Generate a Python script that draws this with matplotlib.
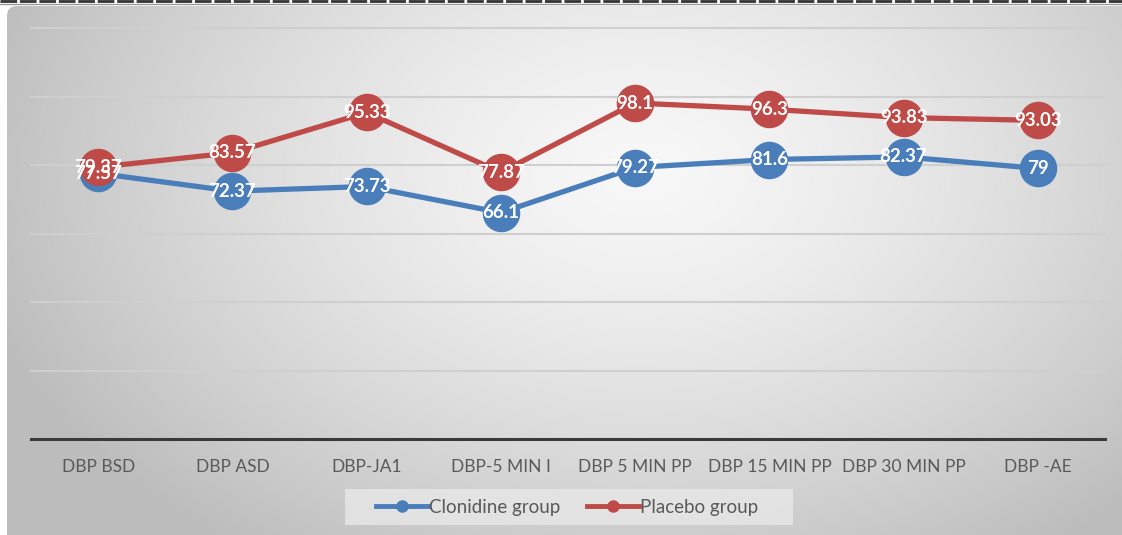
import numpy as np
import matplotlib
matplotlib.use('Agg')
import matplotlib.pyplot as plt
from matplotlib.patches import FancyBboxPatch, Rectangle
from matplotlib.lines import Line2D

categories = ['DBP BSD', 'DBP ASD', 'DBP-JA1', 'DBP-5 MIN I', 'DBP 5 MIN PP',
              'DBP 15 MIN PP', 'DBP 30 MIN PP', 'DBP -AE']
clonidine = [77.57, 72.37, 73.73, 66.1, 79.27, 81.6, 82.37, 79]
placebo = [79.37, 83.57, 95.33, 77.87, 98.1, 96.3, 93.83, 93.03]
clon_labels = ['77.57', '72.37', '73.73', '66.1', '79.27', '81.6', '82.37', '79']
plac_labels = ['79.37', '83.57', '95.33', '77.87', '98.1', '96.3', '93.83', '93.03']

BLUE = '#4A7EBB'
RED = '#BE4B48'
W, H = 1122, 535

plt.rcParams['font.family'] = ['Lato', 'DejaVu Sans']

fig = plt.figure(figsize=(W / 100, H / 100), dpi=100)
fig.patch.set_facecolor('white')

# background panel with a soft radial gradient
bg = fig.add_axes([0, 0, 1, 1])
bg.set_xlim(0, W)
bg.set_ylim(H, 0)
bg.axis('off')
yy, xx = np.mgrid[0:H, 0:W]
r = np.sqrt(((xx - 640) / 620.0) ** 2 + ((yy - 170) / 420.0) ** 2)
shade = np.clip(0.97 - 0.2 * r ** 1.4, 0.74, 0.97)
img = bg.imshow(np.dstack([shade] * 3), extent=(0, W, H, 0), zorder=0)
panel = FancyBboxPatch((7, 6), W + 20, H + 20, boxstyle='round,pad=0,rounding_size=10',
                       facecolor='none', edgecolor='none', transform=bg.transData)
bg.add_patch(panel)
img.set_clip_path(panel)
bg.plot([0, W], [1, 1], color='#333333', lw=2, ls=(0, (6, 1)))
bg.plot([0, W], [4, 4], color='#999999', lw=1)
# legend backing box
bg.add_patch(Rectangle((345, 489), 448, 36, facecolor='#e8e8e8', edgecolor='none',
                       alpha=0.8, zorder=2))

ax = fig.add_axes([31 / W, (H - 439) / H, (1105 - 31) / W, (439 - 28) / H])
ax.patch.set_alpha(0)
x = np.arange(len(categories))
ax.set_xlim(-0.5, len(categories) - 0.5)
ax.set_ylim(0, 120)
ax.set_yticks([20, 40, 60, 80, 100, 120])
ax.yaxis.grid(True, color='#cfcfcf', lw=1.5)
ax.set_axisbelow(True)
for g in ax.get_ygridlines():
    g.set_clip_on(False)
ax.tick_params(axis='y', left=False, labelleft=False)
ax.tick_params(axis='x', bottom=False, labelsize=12.5, labelcolor='#595959', pad=11)
ax.set_xticks(x)
ax.set_xticklabels(categories)
for s in ['top', 'right', 'left']:
    ax.spines[s].set_visible(False)
ax.spines['bottom'].set_color('#3a3a3a')
ax.spines['bottom'].set_linewidth(2.2)

ax.plot(x, clonidine, color=BLUE, lw=3.8, marker='o', markersize=26,
        label='Clonidine group', zorder=3)
ax.plot(x, placebo, color=RED, lw=3.8, marker='o', markersize=26,
        label='Placebo group', zorder=4)

for xi, v, t in zip(x, clonidine, clon_labels):
    ax.text(xi, v, t, ha='center', va='center', color='white', fontsize=13.5,
            fontweight='bold', zorder=5)
for xi, v, t in zip(x, placebo, plac_labels):
    ax.text(xi, v, t, ha='center', va='center', color='white', fontsize=13.5,
            fontweight='bold', zorder=6)

h1 = Line2D([], [], color=BLUE, lw=3.5, marker='o', markersize=8)
h2 = Line2D([], [], color=RED, lw=3.5, marker='o', markersize=8)
leg = fig.legend([h1, h2], ['Clonidine group', 'Placebo group'], loc='center',
                 bbox_to_anchor=(567 / W, 28 / H), ncol=2, frameon=False,
                 fontsize=13.5, handlelength=2.8, handletextpad=0.05,
                 columnspacing=1.4, labelcolor='#595959')

fig.savefig('out.png', dpi=100)
